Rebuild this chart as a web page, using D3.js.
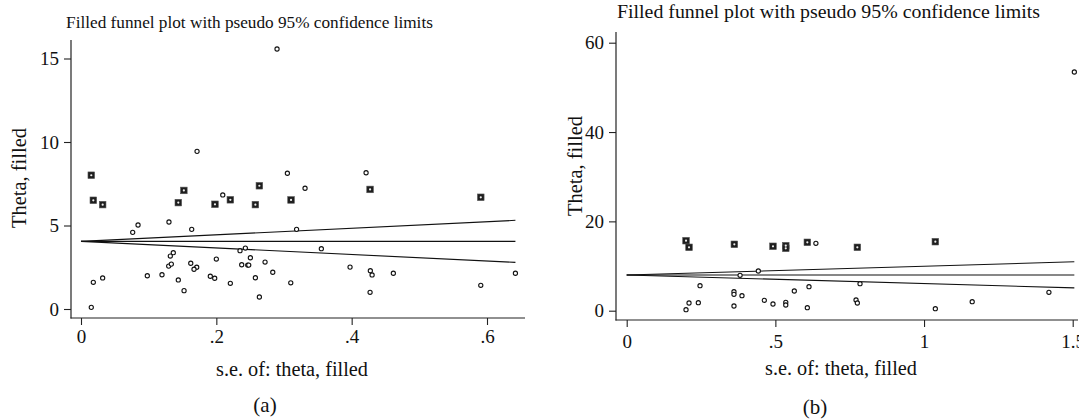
<!DOCTYPE html>
<html><head><meta charset="utf-8">
<script src="https://cdn.jsdelivr.net/npm/d3@7"></script>
<style>
html,body{margin:0;padding:0;background:#fff;}
</style></head>
<body><svg id="c" width="1079" height="419" font-family="'Liberation Serif', 'Times New Roman', serif"></svg>
<script>
// ---------- DATA ----------
const titleText = "Filled funnel plot with pseudo 95% confidence limits";
const yLabelText = "Theta, filled";
const xLabelText = "s.e. of: theta, filled";
const panelLabels = ["(a)", "(b)"];

// Panel (a): observed studies
const seA_obs = [0.2897,0.1715,0.305,0.4213,0.2095,0.3311,0.0764,0.0843,0.130,0.1636,0.3186,0.235,0.2429,0.1364,0.132,0.1296,0.1335,0.200,0.1622,0.171,0.167,0.2375,0.2464,0.2479,0.2503,0.272,0.2834,0.0182,0.032,0.098,0.1197,0.1438,0.1911,0.1976,0.1523,0.2207,0.2577,0.2636,0.310,0.0152,0.3552,0.3976,0.4276,0.4302,0.4616,0.642,0.4272,0.5908];
const thA_obs = [15.57,9.44,8.13,8.16,6.83,7.23,4.59,5.03,5.21,4.77,4.77,3.49,3.65,3.37,3.17,2.57,2.69,2.99,2.74,2.50,2.38,2.65,2.63,2.63,3.07,2.81,2.20,1.60,1.86,1.99,2.05,1.74,1.96,1.84,1.10,1.54,1.87,0.72,1.57,0.10,3.61,2.51,2.29,2.04,2.14,2.14,1.00,1.42];
// Panel (a): filled (imputed) studies
const seA_fill = [0.0152,0.0182,0.032,0.1438,0.152,0.198,0.2207,0.2577,0.2636,0.3104,0.4272,0.5908];
const thA_fill = [8.01,6.51,6.25,6.37,7.10,6.27,6.54,6.25,7.38,6.53,7.16,6.69];
// Panel (a): funnel lines (endpoints)
const funA_se  = [0, 0.642];
const funA_mid = [4.05, 4.05];
const funA_lo  = [4.05, 2.79];
const funA_hi  = [4.05, 5.31];
const xTicksA = [0, 0.2, 0.4, 0.6];
const yTicksA = [0, 5, 10, 15];

// Panel (b): observed studies
const seB_obs = [0.6363,0.4427,0.3813,0.2466,0.5637,0.6131,0.3608,0.3608,0.3877,0.4628,0.492,0.535,0.535,0.2096,0.2409,0.1995,0.3608,0.6075,1.5055,0.7847,0.7713,0.7757,1.038,1.162,1.42];
const thB_obs = [15.09,8.89,7.92,5.60,4.41,5.37,4.25,3.67,3.36,2.33,1.50,1.88,1.28,1.72,1.79,0.22,1.05,0.67,53.44,6.04,2.40,1.72,0.45,2.01,4.12];
// Panel (b): filled studies
const seB_fill = [0.1995,0.2096,0.362,0.492,0.535,0.535,0.6075,0.7757,1.038];
const thB_fill = [15.67,14.19,14.86,14.42,14.55,13.97,15.31,14.19,15.45];
const funB_se  = [0, 1.5055];
const funB_mid = [8.0, 8.0];
const funB_lo  = [8.0, 5.1];
const funB_hi  = [8.0, 10.95];
const xTicksB = [0, 0.5, 1, 1.5];
const yTicksB = [0, 20, 40, 60];

// ---------- DRAW ----------
const FONT = "'Liberation Serif', 'Times New Roman', serif";
const svg = d3.select("#c");
const fmt = d => { if (d === 0) return "0"; let s = String(d); return s.startsWith("0.") ? s.slice(1) : s; };

function fitText(sel, w, base) {
  sel.attr("font-size", base);
  const L = sel.node().getComputedTextLength();
  sel.attr("font-size", (base * w / L).toFixed(2));
}

function panel(cfg) {
  const g = svg.append("g");
  const x = d3.scaleLinear().domain(cfg.xDom).range(cfg.xRng);
  const y = d3.scaleLinear().domain(cfg.yDom).range(cfg.yRng);

  // axis lines
  g.append("line").attr("x1", cfg.axX).attr("x2", cfg.axX).attr("y1", cfg.axTop).attr("y2", cfg.axY + 0.5)
    .attr("stroke", "#222").attr("stroke-width", 1.2);
  g.append("line").attr("x1", cfg.axX - 0.5).attr("x2", cfg.axRight).attr("y1", cfg.axY).attr("y2", cfg.axY)
    .attr("stroke", "#222").attr("stroke-width", 1.2);

  // y axis ticks
  const ya = g.append("g").attr("transform", `translate(${cfg.axX},0)`)
    .call(d3.axisLeft(y).tickValues(cfg.yTicks).tickFormat(fmt).tickSize(7).tickPadding(5));
  ya.attr("font-family", FONT).attr("font-size", cfg.tickFs);
  ya.select(".domain").remove();
  ya.selectAll("line").attr("stroke", "#222").attr("stroke-width", 1.1);
  ya.selectAll("text").attr("fill", "#111");
  // x axis ticks
  const xa = g.append("g").attr("transform", `translate(0,${cfg.axY})`)
    .call(d3.axisBottom(x).tickValues(cfg.xTicks).tickFormat(fmt).tickSize(7).tickPadding(cfg.xPad));
  xa.attr("font-family", FONT).attr("font-size", cfg.tickFs);
  xa.select(".domain").remove();
  xa.selectAll("line").attr("stroke", "#222").attr("stroke-width", 1.1);
  xa.selectAll("text").attr("fill", "#111");

  // funnel lines
  const line = d3.line().x(d => x(d[0])).y(d => y(d[1]));
  [cfg.fun.mid, cfg.fun.lo, cfg.fun.hi].forEach(arr => {
    g.append("path").datum(cfg.fun.se.map((s, i) => [s, arr[i]]))
      .attr("d", line).attr("fill", "none").attr("stroke", "#111").attr("stroke-width", 1.1);
  });

  // observed studies: hollow circles
  g.selectAll(".obs").data(cfg.obsSe.map((s, i) => [s, cfg.obsTh[i]])).enter()
    .append("circle").attr("cx", d => x(d[0])).attr("cy", d => y(d[1])).attr("r", 2.1)
    .attr("fill", "#fff").attr("stroke", "#111").attr("stroke-width", 1.1);

  // filled studies: dark squares with light centre
  const fd = cfg.fillSe.map((s, i) => [s, cfg.fillTh[i]]);
  g.selectAll(".fsq").data(fd).enter().append("rect")
    .attr("x", d => x(d[0]) - 3.3).attr("y", d => y(d[1]) - 3.3).attr("width", 6.6).attr("height", 6.6)
    .attr("fill", "#1e1e1e").attr("stroke", "#555").attr("stroke-width", 0.6);
  g.selectAll(".fdot").data(fd).enter().append("circle")
    .attr("cx", d => x(d[0])).attr("cy", d => y(d[1])).attr("r", 1.1)
    .attr("fill", "#eee");

  // texts
  const tx = g.append("g").attr("font-family", FONT).attr("fill", "#111");
  const t = tx.append("text").attr("x", cfg.title[0]).attr("y", cfg.title[1]).attr("text-anchor", "middle").text(titleText);
  fitText(t, cfg.title[2], 16);
  const yl = tx.append("text").attr("transform", `translate(${cfg.yl[0]},${cfg.yl[1]}) rotate(-90)`)
    .attr("text-anchor", "middle").text(yLabelText);
  fitText(yl, cfg.yl[2], 16);
  const xl = tx.append("text").attr("x", cfg.xl[0]).attr("y", cfg.xl[1]).attr("text-anchor", "middle").text(xLabelText);
  fitText(xl, cfg.xl[2], 16);
  tx.append("text").attr("x", cfg.pl[0]).attr("y", cfg.pl[1]).attr("text-anchor", "middle")
    .attr("font-size", 21).text(cfg.plText);
}

panel({
  xDom: [0, 0.6], xRng: [81, 487], yDom: [0, 15], yRng: [309, 58.5],
  axX: 71, axY: 318, axTop: 40, axRight: 525,
  xTicks: xTicksA, yTicks: yTicksA, tickFs: 19, xPad: 5,
  fun: {se: funA_se, mid: funA_mid, lo: funA_lo, hi: funA_hi},
  obsSe: seA_obs, obsTh: thA_obs, fillSe: seA_fill, fillTh: thA_fill,
  title: [249.5, 28, 367], yl: [26, 178, 100], xl: [292, 376, 152], pl: [265, 412], plText: panelLabels[0]
});
panel({
  xDom: [0, 1.5], xRng: [626.7, 1072.7], yDom: [0, 60], yRng: [310.7, 42.7],
  axX: 616, axY: 320, axTop: 32, axRight: 1078,
  xTicks: xTicksB, yTicks: yTicksB, tickFs: 19, xPad: 8,
  fun: {se: funB_se, mid: funB_mid, lo: funB_lo, hi: funB_hi},
  obsSe: seB_obs, obsTh: thB_obs, fillSe: seB_fill, fillTh: thB_fill,
  title: [828.5, 18, 423], yl: [582, 166, 100], xl: [841, 375, 152], pl: [815, 414], plText: panelLabels[1]
});
</script></body></html>
